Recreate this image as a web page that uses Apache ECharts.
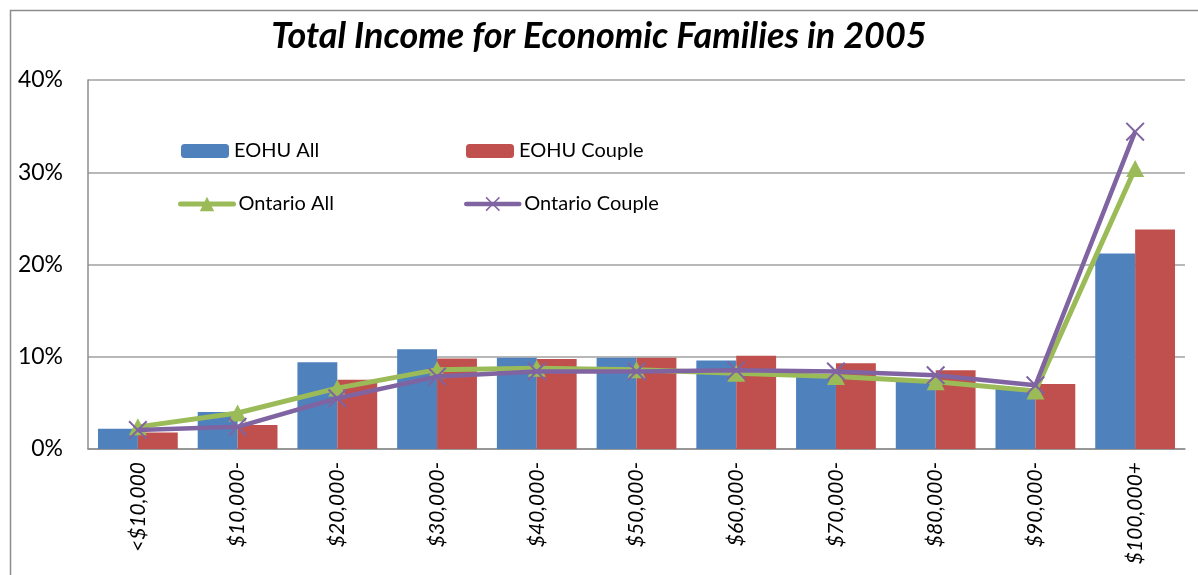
<!DOCTYPE html>
<html>
<head>
<meta charset="utf-8">
<script src="https://cdn.jsdelivr.net/npm/echarts@6/dist/echarts.min.js"></script>
<style>html,body{margin:0;padding:0;background:#fff}#c{width:1198px;height:575px}</style>
</head>
<body>
<div id="c"></div>
<script>
const categories = ['<$10,000','$10,000-','$20,000-','$30,000-','$40,000-','$50,000-','$60,000-','$70,000-','$80,000-','$90,000-','$100,000+'];
const eohuAll = [2.2, 4.0, 9.4, 10.8, 9.9, 9.9, 9.6, 7.9, 7.5, 6.5, 21.2];
const eohuCouple = [1.8, 2.6, 7.5, 9.8, 9.75, 9.9, 10.1, 9.3, 8.55, 7.05, 23.8];
const ontarioAll = [2.4, 3.9, 6.6, 8.6, 8.75, 8.6, 8.2, 7.85, 7.3, 6.3, 30.4];
const ontarioCouple = [2.05, 2.4, 5.5, 7.85, 8.4, 8.4, 8.55, 8.4, 8.0, 6.9, 34.4];
const yTicks = {min: 0, max: 40, interval: 10};

const FONT = 'Lato';
const xSym = 'path://M1.5,0L10,8.5L18.5,0L20,1.5L11.5,10L20,18.5L18.5,20L10,11.5L1.5,20L0,18.5L8.5,10L0,1.5Z';

const chart = echarts.init(document.getElementById('c'), null, {renderer: 'canvas'});
const legendBase = {
  orient: 'horizontal', itemGap: 0, padding: 0,
  textStyle: {fontFamily: FONT, fontSize: 20, color: '#000'},
  selectedMode: false
};
chart.setOption({
  animation: false,
  backgroundColor: '#fff',
  textStyle: {fontFamily: FONT},
  title: {
    text: 'Total Income for Economic Families in 2005',
    left: 'center', top: 13,
    textStyle: {fontFamily: FONT, fontSize: 36, fontWeight: 'bold', fontStyle: 'italic', color: '#000'}
  },
  graphic: [{
    type: 'rect', silent: true,
    shape: {x: 10.5, y: 10.5, width: 1400, height: 800},
    style: {fill: 'none', stroke: '#8c8c8c', lineWidth: 1.5}
  }],
  legend: [
    Object.assign({}, legendBase, {data: ['EOHU All'], left: 181, top: 141, itemWidth: 48, itemHeight: 14}),
    Object.assign({}, legendBase, {data: ['EOHU Couple'], left: 466, top: 141, itemWidth: 48, itemHeight: 14}),
    Object.assign({}, legendBase, {data: ['Ontario All'], left: 178, top: 194, itemWidth: 53, itemHeight: 18,
      lineStyle: {width: 5, cap: 'round'}}),
    Object.assign({}, legendBase, {data: ['Ontario Couple'], left: 464, top: 194, itemWidth: 53, itemHeight: 18,
      lineStyle: {width: 4.5, cap: 'round'}})
  ],
  grid: {left: 88, right: 13, top: 80, bottom: 126, containLabel: false},
  xAxis: {
    type: 'category', data: categories,
    axisLine: {show: true, lineStyle: {color: '#8c8c8c', width: 1.5}},
    axisTick: {show: false},
    axisLabel: {rotate: 90, margin: 13, fontFamily: FONT, fontSize: 21, fontStyle: 'italic', color: '#000', interval: 0}
  },
  yAxis: {
    type: 'value', min: yTicks.min, max: yTicks.max, interval: yTicks.interval,
    axisLine: {show: true, lineStyle: {color: '#8c8c8c', width: 1.5}},
    axisTick: {show: false},
    splitLine: {lineStyle: {color: '#a0a0a0', width: 1.5}},
    axisLabel: {formatter: '{value}%', margin: 25, fontFamily: FONT, fontSize: 23, color: '#000'}
  },
  series: [
    {name: 'EOHU All', type: 'bar', data: eohuAll, barGap: '0%', barCategoryGap: '20%',
     itemStyle: {color: '#4F81BD'}},
    {name: 'EOHU Couple', type: 'bar', data: eohuCouple, barGap: '0%', barCategoryGap: '20%',
     itemStyle: {color: '#C0504D'}},
    {name: 'Ontario All', type: 'line', data: ontarioAll, symbol: 'triangle', symbolSize: [18, 17],
     lineStyle: {color: '#9BBB59', width: 5}, itemStyle: {color: '#9BBB59'}, z: 3},
    {name: 'Ontario Couple', type: 'line', data: ontarioCouple, symbol: xSym, symbolSize: 19,
     lineStyle: {color: '#8064A2', width: 4.5}, itemStyle: {color: '#8064A2'}, z: 4}
  ]
});
</script>
</body>
</html>
